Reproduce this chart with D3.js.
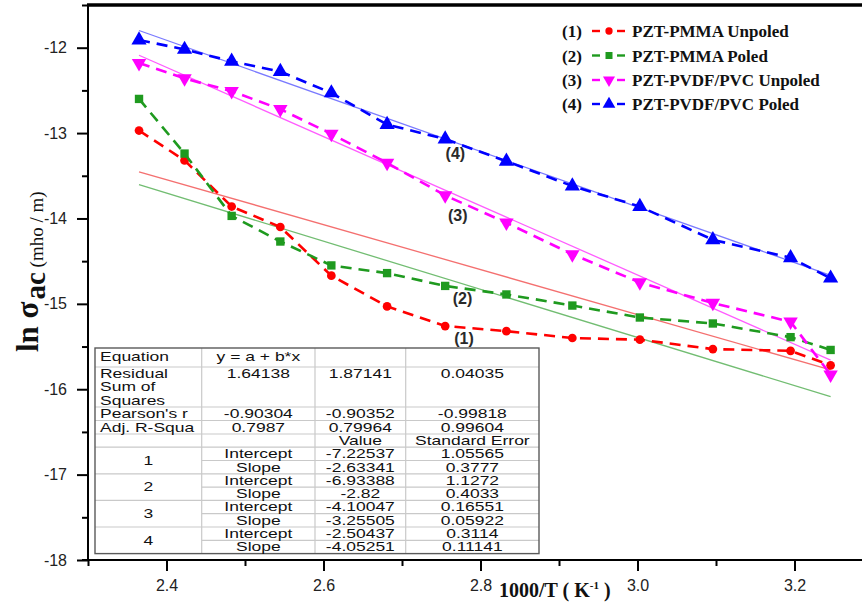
<!DOCTYPE html>
<html><head><meta charset="utf-8">
<script src="https://cdn.jsdelivr.net/npm/d3@7"></script>
<style>body{margin:0;background:#fff;} svg{display:block}</style>
</head><body>
<svg id="chart" width="862" height="607"></svg>
<script>
// ---------- data ----------
const invT = [2.365, 2.423, 2.483, 2.545, 2.610, 2.681, 2.755, 2.833, 2.917, 3.003, 3.096, 3.195, 3.246];
const seriesIds = ["(1)", "(2)", "(3)", "(4)"];
const seriesNames = ["PZT-PMMA Unpoled", "PZT-PMMA Poled", "PZT-PVDF/PVC Unpoled", "PZT-PVDF/PVC Poled"];
const lnSigma1 = [-12.97, -13.32, -13.86, -14.10, -14.67, -15.03, -15.26, -15.32, -15.40, -15.42, -15.53, -15.55, -15.72];
const lnSigma2 = [-12.60, -13.24, -13.97, -14.27, -14.55, -14.64, -14.79, -14.89, -15.02, -15.16, -15.23, -15.39, -15.54];
const lnSigma3 = [-12.18, -12.36, -12.51, -12.72, -13.01, -13.35, -13.73, -14.05, -14.42, -14.75, -14.99, -15.21, -15.83];
const lnSigma4 = [-11.91, -12.02, -12.16, -12.28, -12.53, -12.90, -13.07, -13.33, -13.62, -13.86, -14.25, -14.46, -14.70];
const labelX = [2.779, 2.777, 2.771, 2.768];
const labelY = [-15.40, -14.93, -13.96, -13.23];

const yTicks = [-18, -17, -16, -15, -14, -13, -12];
const yMinorTicks = [-17.5, -16.5, -15.5, -14.5, -13.5, -12.5, -11.5];
const xTicks = [2.4, 2.6, 2.8, 3.0, 3.2];
const xMinorTicks = [2.3, 2.5, 2.7, 2.9, 3.1];

// fit table
const statLabels = ["Equation", "Residual|Sum of|Squares", "Pearson's r", "Adj. R-Squa"];
const statCol2 = ["y = a + b*x", "1.64138", "-0.90304", "0.7987"];
const statCol3 = ["", "1.87141", "-0.90352", "0.79964"];
const statCol4 = ["", "0.04035", "-0.99818", "0.99604"];
const paramHeaders = ["Value", "Standard Error"];
const fitGroups = ["1", "2", "3", "4"];
const paramNames = ["Intercept", "Slope"];
const interceptVals = ["-7.22537", "-6.93388", "-4.10047", "-2.50437"];
const interceptErrs = ["1.05565", "1.1272", "0.16551", "0.3114"];
const slopeVals = ["-2.63341", "-2.82", "-3.25505", "-4.05251"];
const slopeErrs = ["0.3777", "0.4033", "0.05922", "0.11141"];
const fitRowForSeries = [0, 1, 3, 2];

// ---------- styles ----------
const lineColors = ["#ff0000", "#1f9a1f", "#ff00ff", "#0000ff"];
const fitColors = ["#f47070", "#72bd72", "#ff5cff", "#7a7aff"];
const markerTypes = [d3.symbolCircle, d3.symbolSquare, d3.symbolTriangle, d3.symbolTriangle];
const markerSizes = [60, 70, 90, 100];
const markerRot = [0, 0, 180, 0];

const svg = d3.select("#chart");
const x = d3.scaleLinear().domain([2.3, 3.3]).range([88, 873]);
const y = d3.scaleLinear().domain([-18, -11.5]).range([560, 5]);

const series = [lnSigma1, lnSigma2, lnSigma3, lnSigma4];

// ---------- fit lines ----------
series.forEach((vals, i) => {
  const r = fitRowForSeries[i];
  const a = +interceptVals[r], b = +slopeVals[r];
  const x0 = invT[0], x1 = invT[invT.length - 1];
  svg.append("line")
    .attr("x1", x(x0)).attr("y1", y(a + b * x0))
    .attr("x2", x(x1)).attr("y2", y(a + b * x1))
    .attr("stroke", fitColors[i]).attr("stroke-width", 1.3);
});

// ---------- data lines ----------
const line = d3.line().x(d => x(d[0])).y(d => y(d[1]));
series.forEach((vals, i) => {
  const pts = invT.map((t, k) => [t, vals[k]]);
  svg.append("path").attr("d", line(pts)).attr("fill", "none")
    .attr("stroke", lineColors[i]).attr("stroke-width", 2.6)
    .attr("stroke-dasharray", "11,7");
  svg.append("g").selectAll("path").data(pts).join("path")
    .attr("d", d3.symbol().type(markerTypes[i]).size(markerSizes[i]))
    .attr("transform", d => `translate(${x(d[0])},${y(d[1])}) rotate(${markerRot[i]})`)
    .attr("fill", lineColors[i]);
});

// series labels
seriesIds.forEach((s, i) => {
  svg.append("text").attr("x", x(labelX[i])).attr("y", y(labelY[i]) + 6)
    .attr("text-anchor", "middle").attr("font-family", "Arial, 'Liberation Sans', sans-serif")
    .attr("font-weight", "bold").attr("font-size", 16).attr("fill", "#2a2a2a").text(s);
});

// ---------- axes ----------
const axisFont = "Arial, 'Liberation Sans', sans-serif";
const gy = svg.append("g").attr("transform", "translate(88,0)")
  .call(d3.axisLeft(y).tickValues(yTicks).tickSize(11).tickPadding(10).tickFormat(d => String(d)));
const gym = svg.append("g").attr("transform", "translate(88,0)")
  .call(d3.axisLeft(y).tickValues(yMinorTicks).tickSize(6).tickFormat(""));
const gx = svg.append("g").attr("transform", "translate(0,560)")
  .call(d3.axisBottom(x).tickValues(xTicks).tickSize(11).tickPadding(9).tickFormat(d3.format(".1f")));
const gxm = svg.append("g").attr("transform", "translate(0,560)")
  .call(d3.axisBottom(x).tickValues(xMinorTicks).tickSize(6).tickFormat(""));
[gy, gym, gx, gxm].forEach(g => {
  g.select(".domain").remove();
  g.selectAll(".tick line").attr("stroke", "#000").attr("stroke-width", 2);
  g.selectAll(".tick text").attr("font-family", axisFont).attr("font-size", 16).attr("fill", "#222");
});
// frame lines
svg.append("line").attr("x1", 88).attr("x2", 88).attr("y1", y(-11.5)).attr("y2", 561).attr("stroke", "#000").attr("stroke-width", 2);
svg.append("line").attr("x1", 82).attr("x2", 862).attr("y1", 560).attr("y2", 560).attr("stroke", "#000").attr("stroke-width", 2);
svg.append("line").attr("x1", 87).attr("x2", 862).attr("y1", y(-11.5)).attr("y2", y(-11.5)).attr("stroke", "#000").attr("stroke-width", 3.5);

// axis titles
const serif = "'Liberation Serif', 'Times New Roman', serif";
const xt = svg.append("text").attr("x", 499).attr("y", 597)
  .attr("font-family", serif).attr("font-weight", "bold")
  .attr("font-size", 20).attr("fill", "#111");
xt.append("tspan").text("1000/T ( K");
xt.append("tspan").attr("font-size", 11).attr("dy", -8).text("-1");
xt.append("tspan").attr("dy", 8).text(" )");

const yt = svg.append("text").attr("transform", "translate(38,352) rotate(-90)")
  .attr("font-family", serif).attr("fill", "#111");
yt.append("tspan").attr("font-weight", "bold").attr("font-size", 31).text("ln σ");
yt.append("tspan").attr("font-weight", "bold").attr("font-size", 29).attr("dx", 2).attr("dy", 7).text("ac");
yt.append("tspan").attr("font-size", 19).attr("dy", -2).text(" (mho / m)");

// ---------- legend ----------
const legY = [31, 55.5, 80, 104];
seriesIds.forEach((s, i) => {
  const cy = legY[i];
  svg.append("text").attr("x", 562).attr("y", cy + 6).attr("font-family", serif)
    .attr("font-weight", "bold").attr("font-size", 17).attr("fill", "#111").text(s);
  svg.append("line").attr("x1", 592).attr("x2", 600).attr("y1", cy).attr("y2", cy)
    .attr("stroke", lineColors[i]).attr("stroke-width", 2.4);
  svg.append("line").attr("x1", 617).attr("x2", 625).attr("y1", cy).attr("y2", cy)
    .attr("stroke", lineColors[i]).attr("stroke-width", 2.4);
  svg.append("path").attr("d", d3.symbol().type(markerTypes[i]).size(markerSizes[i] * 0.7))
    .attr("transform", `translate(609,${cy}) rotate(${markerRot[i]})`).attr("fill", lineColors[i]);
  svg.append("text").attr("x", 632).attr("y", cy + 6).attr("font-family", serif)
    .attr("font-weight", "bold").attr("font-size", 17).attr("fill", "#111").text(seriesNames[i]);
});

// ---------- fit table ----------
const colX = [95, 201.7, 315, 405.7, 539];
const rowTops = [348, 367, 407, 420.5, 434, 447.2, 460.5, 473.8, 487.1, 500.4, 513.7, 527, 540.3, 553.6];
const tbl = svg.append("g");
tbl.append("rect").attr("x", colX[0]).attr("y", rowTops[0]).attr("width", colX[4] - colX[0])
  .attr("height", rowTops[13] - rowTops[0]).attr("fill", "#fff");
const gridC = "#c9c9c9";
[1, 2, 3].forEach(c => tbl.append("line").attr("x1", colX[c]).attr("x2", colX[c])
  .attr("y1", rowTops[0]).attr("y2", rowTops[13]).attr("stroke", gridC).attr("stroke-width", 1.2));
for (let r = 1; r < 13; r++) {
  const inner = r >= 6 && (r - 5) % 2 === 1;
  tbl.append("line").attr("x1", inner ? colX[1] : colX[0]).attr("x2", colX[4])
    .attr("y1", rowTops[r]).attr("y2", rowTops[r]).attr("stroke", gridC).attr("stroke-width", 1.2);
}
tbl.append("rect").attr("x", colX[0]).attr("y", rowTops[0]).attr("width", colX[4] - colX[0])
  .attr("height", rowTops[13] - rowTops[0]).attr("fill", "none").attr("stroke", "#5a5a5a").attr("stroke-width", 1.4);

function cell(txt, cx, by, anchor) {
  tbl.append("text").attr("transform", `translate(${cx},${by}) scale(1.4,1)`)
    .attr("text-anchor", anchor).attr("font-family", axisFont).attr("font-size", 12.5)
    .attr("fill", "#111").text(txt);
}
const mid = c => (colX[c] + colX[c + 1]) / 2;
statLabels.forEach((lab, r) => {
  const base = r === 0 ? 361 : rowTops[r] + 11;
  lab.split("|").forEach((part, k) => cell(part, 100, base + k * 13.3, "start"));
  cell(statCol2[r], mid(1), base, "middle");
  cell(statCol3[r], mid(2), base, "middle");
  cell(statCol4[r], mid(3), base, "middle");
});
cell(paramHeaders[0], mid(2), rowTops[4] + 11, "middle");
cell(paramHeaders[1], mid(3), rowTops[4] + 11, "middle");
fitGroups.forEach((g, k) => {
  const r0 = 5 + 2 * k;
  cell(g, mid(0), rowTops[r0] + 17.5, "middle");
  cell(paramNames[0], mid(1), rowTops[r0] + 11, "middle");
  cell(paramNames[1], mid(1), rowTops[r0 + 1] + 11, "middle");
  cell(interceptVals[k], mid(2), rowTops[r0] + 11, "middle");
  cell(slopeVals[k], mid(2), rowTops[r0 + 1] + 11, "middle");
  cell(interceptErrs[k], mid(3), rowTops[r0] + 11, "middle");
  cell(slopeErrs[k], mid(3), rowTops[r0 + 1] + 11, "middle");
});
</script>
</body></html>
